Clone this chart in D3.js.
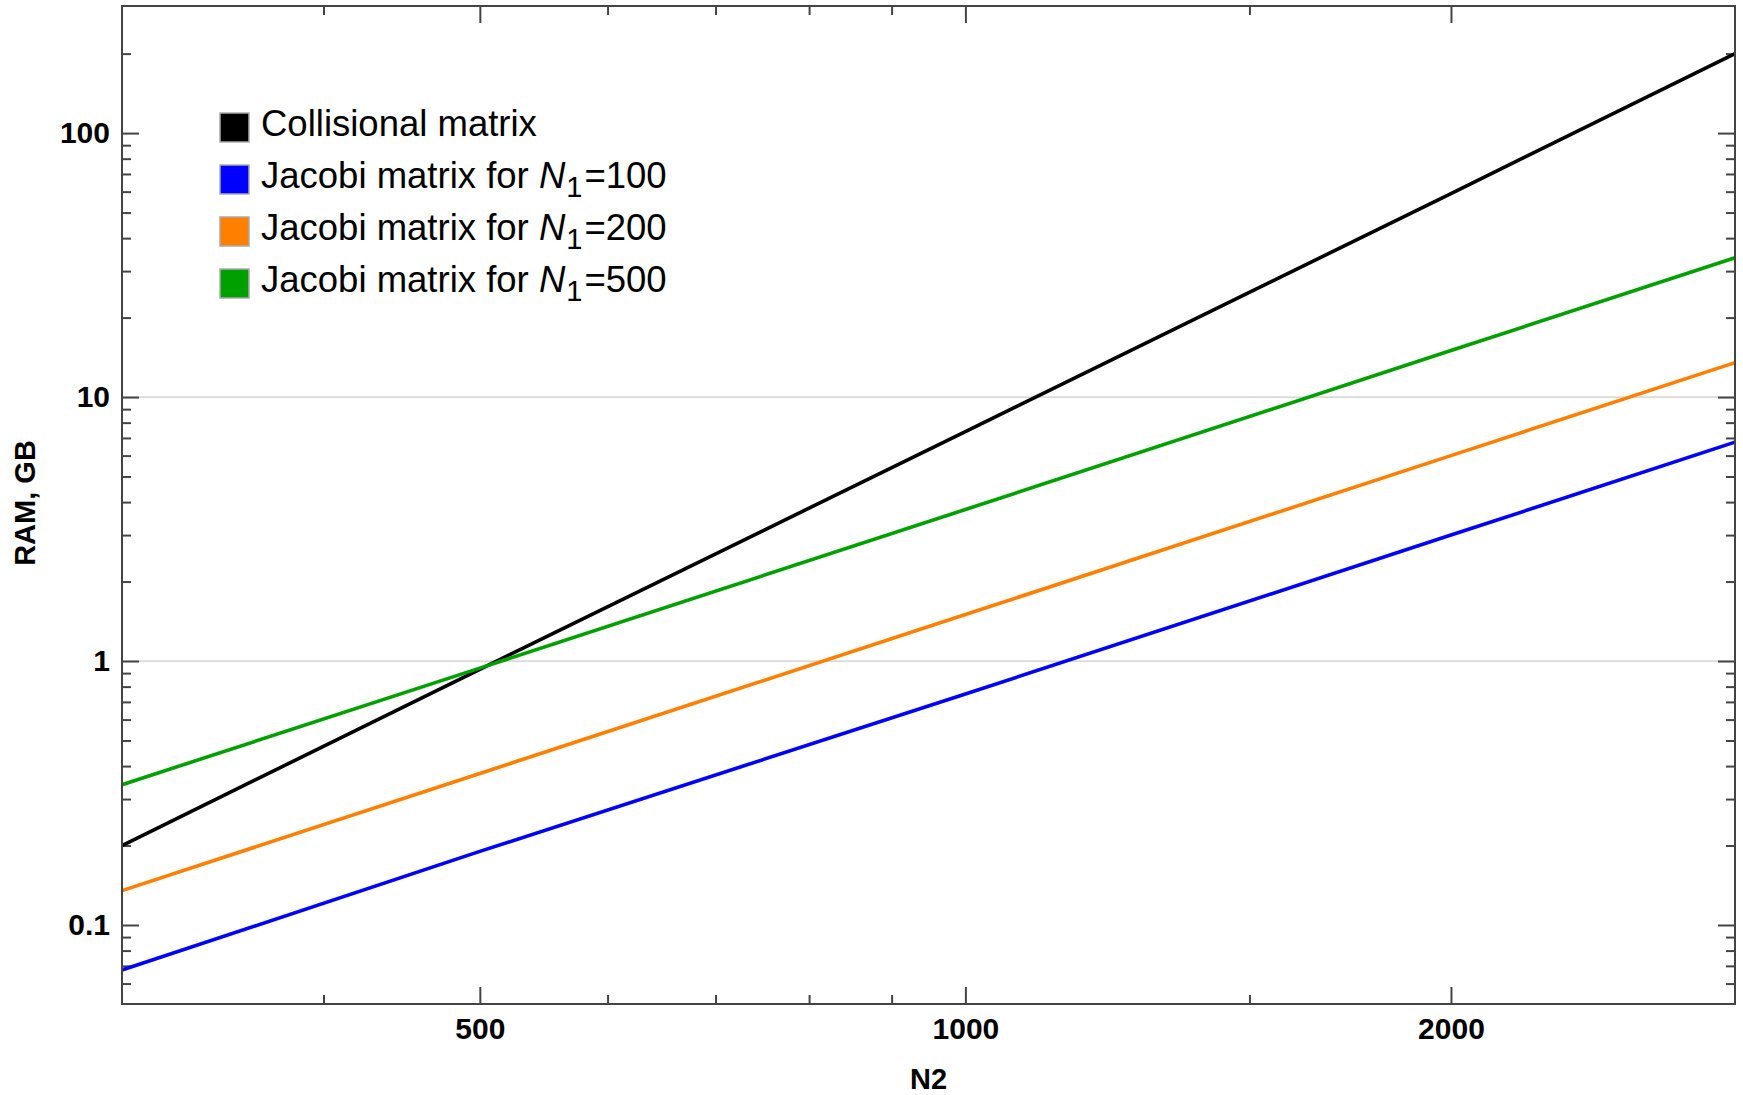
<!DOCTYPE html>
<html>
<head>
<meta charset="utf-8">
<script src="https://cdn.jsdelivr.net/npm/d3@7"></script>
<style>
  body { margin: 0; background: #fff; }
  svg { display: block; font-family: 'Liberation Sans', Arial, sans-serif; }
  .axis text { font-size: 30px; font-weight: bold; fill: #000; }
  .axis line { stroke: #444; stroke-width: 2px; }
  .axis path { display: none; }
</style>
</head>
<body>
<div id="graph"></div>
<script>
(function() {
  'use strict';

  // N2 values the curves were read at
  var n2 = [300, 500, 1000, 2000, 3000];
  // RAM in GB
  var collisional = [0.2, 0.93, 7.4, 59, 200];
  var jacobi100 = [0.0675, 0.19, 0.75, 3.0, 6.75];
  var jacobi200 = [0.135, 0.375, 1.5, 6.0, 13.5];
  var jacobi500 = [0.34, 0.94, 3.75, 15, 33.7];

  var seriesNames = ['Collisional matrix', 'Jacobi matrix for N1=100', 'Jacobi matrix for N1=200', 'Jacobi matrix for N1=500'];
  var seriesColors = ['#000000', '#0000ff', '#ff8000', '#00a000'];

  var xMajorTicks = [500, 1000, 2000];
  var xMinorTicks = [400, 600, 700, 800, 900, 1500];
  var yMajorTicks = [0.1, 1, 10, 100];
  var yMinorTicks = [0.06, 0.07, 0.08, 0.09, 0.2, 0.3, 0.4, 0.5, 0.6, 0.7, 0.8, 0.9,
    2, 3, 4, 5, 6, 7, 8, 9, 20, 30, 40, 50, 60, 70, 80, 90, 200];
  var yGrid = [1, 10];

  var margin = {top: 6, right: 8, bottom: 91, left: 122},
    width = 1743 - margin.left - margin.right,
    height = 1095 - margin.top - margin.bottom;

  var svg = d3.select('#graph').append('svg')
    .attr('width', 1743)
    .attr('height', 1095);

  var g = svg.append('g')
    .attr('transform', 'translate(' + margin.left + ',' + margin.top + ')');

  var x = d3.scaleLog().domain([300, 3000]).range([0, width]);
  var y = d3.scaleLog().domain([0.0502, 303]).range([height, 0]);

  // grid lines at 1 and 10
  g.selectAll('line.grid')
    .data(yGrid)
    .enter().append('line')
    .attr('class', 'grid')
    .attr('x1', 0).attr('x2', width)
    .attr('y1', function(d) {return y(d);})
    .attr('y2', function(d) {return y(d);})
    .style('stroke', '#cccccc')
    .style('stroke-width', 1.2);

  var fmt = function(d) {return d < 1 ? String(d) : d3.format('d')(d);};

  // bottom
  g.append('g').attr('class', 'axis')
    .attr('transform', 'translate(0,' + height + ')')
    .call(d3.axisBottom(x).tickValues(xMajorTicks).tickFormat(fmt).tickSize(-17).tickPadding(14));
  g.append('g').attr('class', 'axis')
    .attr('transform', 'translate(0,' + height + ')')
    .call(d3.axisBottom(x).tickValues(xMinorTicks).tickFormat('').tickSize(-9));
  // top
  g.append('g').attr('class', 'axis')
    .call(d3.axisTop(x).tickValues(xMajorTicks).tickFormat('').tickSize(-17));
  g.append('g').attr('class', 'axis')
    .call(d3.axisTop(x).tickValues(xMinorTicks).tickFormat('').tickSize(-9));
  // left
  g.append('g').attr('class', 'axis')
    .call(d3.axisLeft(y).tickValues(yMajorTicks).tickFormat(fmt).tickSize(-17).tickPadding(12));
  g.append('g').attr('class', 'axis')
    .call(d3.axisLeft(y).tickValues(yMinorTicks).tickFormat('').tickSize(-9));
  // right
  g.append('g').attr('class', 'axis')
    .attr('transform', 'translate(' + width + ',0)')
    .call(d3.axisRight(y).tickValues(yMajorTicks).tickFormat('').tickSize(-17));
  g.append('g').attr('class', 'axis')
    .attr('transform', 'translate(' + width + ',0)')
    .call(d3.axisRight(y).tickValues(yMinorTicks).tickFormat('').tickSize(-9));

  // curves
  var allSeries = [collisional, jacobi100, jacobi200, jacobi500];
  var line = d3.line()
    .x(function(d, i) {return x(n2[i]);})
    .y(function(d) {return y(d);});

  g.selectAll('path.curve')
    .data(allSeries)
    .enter().append('path')
    .attr('class', 'curve')
    .attr('d', line)
    .style('fill', 'none')
    .style('stroke', function(d, i) {return seriesColors[i];})
    .style('stroke-width', 3.6);

  // frame
  g.append('rect')
    .attr('width', width)
    .attr('height', height)
    .style('fill', 'none')
    .style('stroke', '#444')
    .style('stroke-width', 2);

  // legend
  var legend = svg.append('g').attr('transform', 'translate(220,113)');
  var rows = legend.selectAll('g')
    .data(seriesNames)
    .enter().append('g')
    .attr('transform', function(d, i) {return 'translate(0,' + (i * 52) + ')';});

  rows.append('rect')
    .attr('width', 29).attr('height', 29)
    .style('fill', function(d, i) {return seriesColors[i];})
    .style('stroke', '#aaaaaa')
    .style('stroke-width', 1.5);

  rows.each(function(d) {
    var t = d3.select(this).append('text')
      .attr('x', 41).attr('y', 23)
      .style('font-size', '36.5px');
    var m = d.match(/^(.*)N1=(\d+)$/);
    if (!m) {
      t.text(d);
      return;
    }
    t.append('tspan').text(m[1]);
    t.append('tspan').style('font-style', 'italic').text('N');
    t.append('tspan').attr('dy', 9).attr('dx', 1).style('font-size', '29px').text('1');
    t.append('tspan').attr('dy', -9).attr('dx', 2).text('=' + m[2]);
  });

  // axis titles
  svg.append('text')
    .attr('x', margin.left + width / 2)
    .attr('y', 1089)
    .attr('text-anchor', 'middle')
    .style('font-size', '29px')
    .style('font-weight', 'bold')
    .text('N2');

  svg.append('text')
    .attr('transform', 'translate(35,' + 503 + ') rotate(-90)')
    .attr('text-anchor', 'middle')
    .style('font-size', '29px')
    .style('font-weight', 'bold')
    .text('RAM, GB');
})();
</script>
</body>
</html>
